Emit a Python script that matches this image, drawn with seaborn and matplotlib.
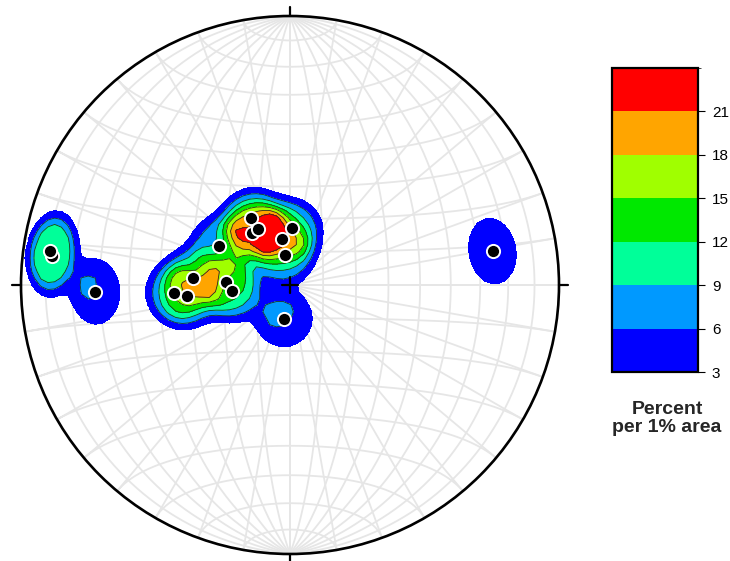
import numpy as np
import matplotlib
matplotlib.use("Agg")
import matplotlib.pyplot as plt
from matplotlib.colors import ListedColormap, BoundaryNorm
from matplotlib.cm import ScalarMappable
from matplotlib.patches import Circle
import pandas as pd
import seaborn as sns

# Poles to planes: trend / plunge in degrees (lower hemisphere)
trend = [277, 278, 268, 330, 324, 330, 2, 350, 350, 299, 274, 273, 264, 266, 264, 190, 80.5]
plunge = [12, 11, 28.3, 66.6, 70.5, 70.5, 72.8, 75.9, 80.8, 65.3, 60.4, 70.6, 72.4, 54.4, 58.4, 79.6, 24.5]

# Contour classes (percent per 1% area)
levels = [3, 6, 9, 12, 15, 18, 21, 24]
level_colors = ["#0000ff", "#0099ff", "#00ff99", "#00e800", "#a0ff00", "#ffa500", "#ff0000"]
tick_values = [3, 6, 9, 12, 15, 18, 21]
cbar_title = ["Percent", "per 1% area"]

sns.set_style("white")
plt.rcParams["font.family"] = ["Liberation Sans", "DejaVu Sans"]


def to_vector(tr, pl):
    t, p = np.radians(tr), np.radians(pl)
    return np.stack([np.cos(p) * np.sin(t), np.cos(p) * np.cos(t), -np.sin(p)], axis=-1)


def schmidt(v):
    """Lambert equal-area projection of lower-hemisphere unit vectors."""
    v = np.where(v[..., 2:3] > 0, -v, v)
    d = np.sqrt(1.0 - v[..., 2])
    return v[..., 0] / d, v[..., 1] / d


def unproject(X, Y):
    r = np.hypot(X, Y)
    k = np.where(r > 1.0, 1.0 / np.maximum(r, 1e-12), 1.0)
    X, Y = X * k, Y * k
    rho2 = X ** 2 + Y ** 2
    s = np.sqrt(2.0 - rho2)
    return np.stack([X * s, Y * s, rho2 - 1.0], axis=-1)


poles = to_vector(np.array(trend), np.array(plunge))
px, py = schmidt(poles)
df = pd.DataFrame({"x": px, "y": py})

# Counting density on the sphere: a 1% area counting cap with a soft rim,
# evaluated on a regular grid of the net plane
n = 81
g = np.linspace(-1.0, 1.0, n)
GX, GY = np.meshgrid(g, g)
nodes = unproject(GX, GY)
ang = np.arccos(np.clip(np.abs(nodes @ poles.T), 0.0, 1.0))
theta_c, p = 0.147, 6
weights = 1.0 / (1.0 + (ang / theta_c) ** p)
pct = 100.0 * weights.sum(axis=-1) / len(poles)

W, H, DPI = 730, 561, 100
fig = plt.figure(figsize=(W / DPI, H / DPI), dpi=DPI)
cx, cy, R = 290, 285, 269
lim = 1.1
ax = fig.add_axes([(cx - lim * R) / W, (H - cy - lim * R) / H, 2 * lim * R / W, 2 * lim * R / H])

# Net grid: great circles through N/S and small circles about the N-S axis
grid_kw = dict(color="#e6e6e6", lw=1.3, zorder=1)
t = np.linspace(0, np.pi, 300)
for dip in range(10, 91, 10):
    d = np.radians(dip)
    for side in (1, -1):
        v = (np.outer(np.cos(t), [0, 1, 0]) +
             np.outer(np.sin(t), [side * np.cos(d), 0, -np.sin(d)]))
        gx, gy = schmidt(v)
        ax.plot(gx, gy, **grid_kw)
t2 = np.linspace(np.pi, 2 * np.pi, 300)
for a in range(10, 171, 10):
    al = np.radians(a)
    v = np.stack([np.sin(al) * np.cos(t2), np.full_like(t2, np.cos(al)), np.sin(al) * np.sin(t2)], axis=-1)
    gx, gy = schmidt(v)
    ax.plot(gx, gy, **grid_kw)

# Filled density contours clipped to the primitive
prim = Circle((0, 0), 1.0, transform=ax.transData, facecolor="none")
cf = ax.contourf(GX, GY, pct, levels=levels[:-1] + [1000], colors=level_colors, zorder=2)
cf.set_clip_path(prim)
cl = ax.contour(GX, GY, pct, levels=levels[1:-1], colors="#1f3320", linewidths=0.6, zorder=3)
cl.set_clip_path(prim)

sns.scatterplot(data=df, x="x", y="y", ax=ax, s=90, color="black", edgecolor="white",
                linewidth=1.4, zorder=5, legend=False)
ax.set_xlim(-lim, lim)
ax.set_ylim(-lim, lim)
ax.axis("off")

# Primitive circle, cardinal ticks and centre cross
ax.add_patch(Circle((0, 0), 1.0, fill=False, lw=1.9, color="black", zorder=6))
tk = 0.034
for (x0, y0, x1, y1) in [(0, 1, 0, 1 + tk), (0, -1, 0, -1 - tk), (1, 0, 1 + tk, 0), (-1, 0, -1 - tk, 0)]:
    ax.plot([x0, x1], [y0, y1], color="black", lw=1.6, zorder=6)
cs = 0.03
ax.plot([-cs, cs], [0, 0], color="black", lw=1.6, zorder=6)
ax.plot([0, 0], [-cs, cs], color="black", lw=1.6, zorder=6)

# Colour bar
cax = fig.add_axes([612 / W, (H - 372) / H, 86 / W, 304 / H])
cmap = ListedColormap(level_colors)
norm = BoundaryNorm(levels, cmap.N)
cb = fig.colorbar(ScalarMappable(norm=norm, cmap=cmap), cax=cax, ticks=tick_values)
cb.outline.set_linewidth(1.6)
cb.outline.set_edgecolor("black")
cax.tick_params(axis="y", length=5, width=0.8, pad=5, labelsize=11, colors="black")
fig.text(667 / W, 1 - 409 / H, cbar_title[0], ha="center", va="center", fontsize=14, fontweight="bold")
fig.text(667 / W, 1 - 427 / H, cbar_title[1], ha="center", va="center", fontsize=14, fontweight="bold")

fig.savefig("out.png", dpi=DPI, facecolor="white")
